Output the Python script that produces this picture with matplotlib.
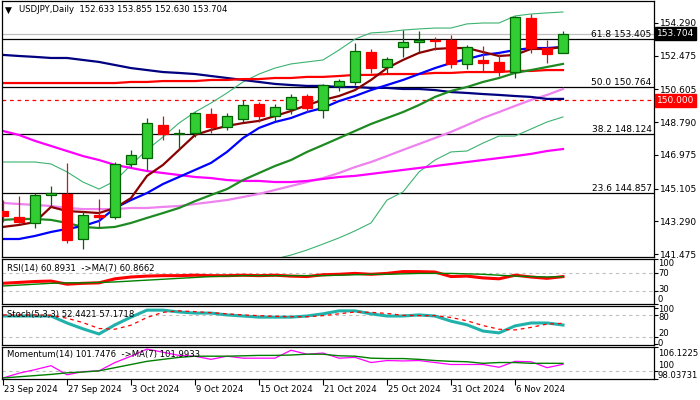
import matplotlib
matplotlib.use("Agg")
import matplotlib.pyplot as plt
from matplotlib.patches import Rectangle
import numpy as np

plt.rcParams['font.family'] = ['DejaVu Sans']

# ---------------- data ----------------
dates = ["23 Sep", "24 Sep", "25 Sep", "26 Sep", "27 Sep", "30 Sep", "1 Oct", "2 Oct", "3 Oct",
         "4 Oct", "7 Oct", "8 Oct", "9 Oct", "10 Oct", "11 Oct", "14 Oct", "15 Oct", "16 Oct",
         "17 Oct", "18 Oct", "21 Oct", "22 Oct", "23 Oct", "24 Oct", "25 Oct", "28 Oct", "29 Oct",
         "30 Oct", "31 Oct", "1 Nov", "4 Nov", "5 Nov", "6 Nov", "7 Nov", "8 Nov", "11 Nov"]
opens = [143.86, 143.53, 143.20, 144.75, 144.81, 142.31, 143.64, 143.53, 146.47, 146.80, 148.63, 148.13,
         148.19, 149.24, 148.52, 148.97, 149.80, 149.13, 149.52, 150.24, 149.47, 150.80, 151.02, 152.68,
         151.85, 152.96, 153.24, 153.35, 153.35, 152.02, 152.24, 152.13, 151.57, 154.57, 152.90, 152.633]
highs = [144.47, 144.70, 144.86, 145.25, 146.53, 143.86, 144.53, 146.58, 147.25, 149.02, 149.13, 148.41,
         149.35, 149.58, 149.30, 150.02, 149.91, 149.80, 150.35, 150.35, 150.91, 151.18, 153.18, 152.85,
         152.40, 153.90, 153.85, 153.51, 153.63, 153.07, 153.02, 152.57, 154.68, 154.79, 153.35, 153.855]
lows = [143.25, 143.20, 142.92, 144.09, 142.09, 141.76, 142.98, 143.42, 146.30, 146.14, 147.80, 147.30,
        147.97, 148.19, 148.36, 148.80, 148.80, 148.86, 149.24, 149.35, 149.02, 150.52, 150.85, 151.52,
        151.46, 152.40, 152.68, 152.79, 151.79, 151.74, 151.57, 151.35, 151.24, 152.63, 152.07, 152.630]
closes = [143.59, 143.25, 144.75, 144.86, 142.26, 143.64, 143.53, 146.47, 146.97, 148.74, 148.13, 148.19,
          149.30, 148.52, 149.13, 149.74, 149.13, 149.63, 150.19, 149.58, 150.85, 151.07, 152.74, 151.79,
          152.29, 153.24, 153.35, 153.29, 152.02, 152.96, 152.07, 151.63, 154.62, 152.90, 152.57, 153.704]

ma_maroon = [142.98, 143.09, 143.25, 144.09, 143.86, 143.81, 143.75, 144.03, 144.58, 145.81, 146.42, 147.25,
             148.08, 148.36, 148.58, 148.74, 148.86, 149.13, 149.41, 149.74, 150.02, 150.24, 150.57, 151.13,
             151.79, 152.24, 152.63, 152.85, 152.90, 152.90, 152.68, 152.46, 152.52, 152.85, 152.85, 152.96]
ma_blue = [142.31, 142.31, 142.48, 142.70, 142.87, 143.03, 143.31, 144.03, 144.47, 144.86, 145.36, 145.75,
           146.14, 146.53, 147.14, 147.91, 148.47, 148.80, 149.02, 149.35, 149.58, 149.96, 150.24, 150.57,
           150.85, 151.13, 151.46, 151.79, 152.07, 152.29, 152.52, 152.63, 152.79, 152.90, 152.90, 152.96]
ma_green = [143.37, 143.42, 143.42, 143.37, 143.20, 142.98, 142.92, 142.98, 143.20, 143.48, 143.75, 144.03,
            144.41, 144.75, 145.08, 145.58, 145.97, 146.36, 146.69, 147.14, 147.52, 147.91, 148.30, 148.69,
            149.02, 149.35, 149.74, 150.19, 150.52, 150.74, 151.02, 151.24, 151.52, 151.68, 151.85, 152.02]
ma_red = [150.96, 150.96, 150.96, 150.96, 150.96, 150.96, 150.96, 150.96, 151.02, 151.02, 151.07, 151.07,
          151.07, 151.13, 151.13, 151.18, 151.18, 151.24, 151.24, 151.30, 151.30, 151.35, 151.41, 151.41,
          151.46, 151.46, 151.46, 151.52, 151.52, 151.57, 151.57, 151.57, 151.63, 151.63, 151.68, 151.68]
ma_navy = [152.52, 152.46, 152.41, 152.35, 152.35, 152.24, 152.13, 151.96, 151.79, 151.68, 151.57, 151.52,
           151.46, 151.35, 151.24, 151.13, 151.02, 150.91, 150.85, 150.80, 150.80, 150.74, 150.74, 150.69,
           150.69, 150.63, 150.63, 150.57, 150.46, 150.41, 150.35, 150.30, 150.24, 150.19, 150.08, 150.08]
ma_magenta = [148.30, 148.08, 147.75, 147.47, 147.19, 146.91, 146.69, 146.42, 146.25, 146.08, 145.97, 145.86,
              145.75, 145.69, 145.58, 145.53, 145.53, 145.47, 145.47, 145.53, 145.64, 145.75, 145.81, 145.92,
              146.03, 146.14, 146.25, 146.36, 146.47, 146.58, 146.69, 146.80, 146.91, 147.03, 147.19, 147.30]
ma_violet = [144.31, 144.25, 144.20, 144.14, 144.03, 143.97, 143.97, 143.97, 144.03, 144.03, 144.09, 144.14,
             144.25, 144.36, 144.47, 144.64, 144.81, 145.03, 145.25, 145.47, 145.69, 145.97, 146.30, 146.58,
             146.91, 147.25, 147.58, 147.91, 148.25, 148.63, 149.02, 149.35, 149.69, 150.02, 150.30, 150.63]
bb_upper = [146.58, 146.58, 146.58, 146.47, 146.03, 145.47, 145.08, 145.53, 146.42, 147.25, 147.97, 148.74,
            149.35, 149.85, 150.41, 151.02, 151.46, 151.79, 152.02, 152.13, 152.24, 152.79, 153.40, 153.74,
            153.79, 153.90, 153.96, 154.01, 154.01, 154.24, 154.29, 154.29, 154.68, 154.79, 154.85, 154.90]
bb_lower_start = 15
bb_lower = [140.70, 140.98, 141.20, 141.42, 141.70, 142.03, 142.37, 142.76, 143.20, 144.47, 144.92, 146.03,
            146.69, 147.14, 147.19, 147.63, 148.02, 148.02, 148.41, 148.80, 149.08]

rsi = [46, 48, 50, 51, 44, 46, 47, 56, 60, 62, 63, 63, 64, 63, 63, 64, 63, 64, 62, 61, 65, 66, 68, 66,
       68, 72, 72, 71, 61, 62, 58, 56, 64, 60, 57, 60.8931]
rsi_ma = [40, 42, 44, 46, 47, 47, 48, 49, 51, 53, 55, 57, 59, 61, 62, 63, 63, 63, 63, 63, 63, 64, 65, 66,
          66, 67, 68, 68, 68, 67, 66, 64, 62, 61, 60, 60.8662]
stoch_k = [77, 77, 77, 77, 58, 42, 28, 53, 74, 93, 93, 88, 85, 85, 80, 77, 74, 74, 74, 77, 83, 91, 91, 83,
           77, 77, 80, 77, 63, 53, 36, 31, 50, 58, 58, 52.4421]
stoch_d = [80, 80, 80, 79, 71, 59, 43, 41, 52, 73, 87, 91, 89, 86, 83, 80, 78, 76, 75, 75, 78, 83, 88, 87,
           84, 79, 78, 78, 73, 64, 51, 41, 39, 46, 55, 57.1718]
mom = [98.3, 99.5, 100.4, 101.4, 99.1, 99.9, 100.1, 102.2, 103.8, 105.6, 104.8, 104.0, 103.8, 103.0, 103.8,
       103.3, 103.3, 103.3, 105.3, 104.3, 104.6, 103.3, 103.5, 102.2, 102.7, 102.6, 102.7, 102.2, 101.7, 101.7,
       101.7, 101.0, 102.5, 102.4, 100.9, 101.7476]
mom_ma = [98.3, 98.6, 98.9, 99.2, 99.6, 99.8, 100.1, 100.9, 101.7, 102.5, 103.0, 103.5, 103.8, 103.8, 103.8,
          103.9, 104.0, 104.0, 104.1, 104.3, 104.3, 103.9, 103.8, 103.3, 103.2, 103.2, 103.0, 102.7, 102.5, 102.4,
          102.0, 102.2, 102.2, 102.0, 102.0, 101.9933]

fib_levels = [153.405, 150.764, 148.124, 144.857]
fib_names = ["61.8", "50.0", "38.2", "23.6"]
price_ticks = [154.290, 152.475, 150.605, 148.790, 146.975, 145.105, 143.290, 141.475]
date_ticks = [0, 4, 8, 12, 16, 20, 24, 28, 32]
last_price = 153.704
round_level = 150.000
mom_max, mom_min = 106.1225, 98.03731

# ---------------- figure ----------------
W, H = 700, 400
fig = plt.figure(figsize=(7, 4), dpi=100)
fig.patch.set_facecolor('white')

def add_ax(x0, y0, x1, y1):
    return fig.add_axes([x0 / W, 1 - y1 / H, (x1 - x0) / W, (y1 - y0) / H])

def ftext(x, y, s, **kw):
    fig.text(x / W, 1 - y / H, s, **kw)

XL = (-1 / 16, 651 / 16)
FS = 6.5
FS2 = 6.1
idx = np.arange(len(dates))

ax = add_ax(2, 1, 654, 257)
ax.set_xlim(*XL)
YLO, YHI = 141.312, 155.510
ax.set_ylim(YLO, YHI)

for ln in fib_levels:
    ax.axhline(ln, color='black', lw=0.9, zorder=1)
ax.axhline(last_price, color='#C0C0C0', lw=0.9, zorder=1)
ax.axhline(round_level, color='red', lw=0.9, ls=(0, (3, 3)), zorder=1)

ax.plot(idx, bb_upper, color='#3CB371', lw=0.8, zorder=2)
ax.plot(idx[bb_lower_start:], bb_lower, color='#3CB371', lw=0.8, zorder=2)
ax.plot(idx, ma_violet, color='#EE82EE', lw=1.6, zorder=2)
ax.plot(idx, ma_magenta, color='#FF00FF', lw=1.6, zorder=2)
ax.plot(idx, ma_navy, color='#000080', lw=1.6, zorder=2)
ax.plot(idx, ma_red, color='#FF0000', lw=1.6, zorder=2)
ax.plot(idx, ma_green, color='#1E8B22', lw=1.6, zorder=2)
ax.plot(idx, ma_blue, color='#0000FF', lw=1.6, zorder=2)
ax.plot(idx, ma_maroon, color='#8B0000', lw=1.6, zorder=2)

bw = 0.66
for i in idx:
    o, h, l, c = opens[i], highs[i], lows[i], closes[i]
    up = c >= o
    wick = '#006400' if up else '#B22222'
    ax.plot([i, i], [l, h], color=wick, lw=0.9, zorder=3, solid_capstyle='butt')
    bottom = min(o, c)
    height = max(abs(c - o), 0.06)
    if up:
        ax.add_patch(Rectangle((i - bw / 2, bottom), bw, height, facecolor='#32CD32',
                               edgecolor='#006400', lw=0.9, zorder=4))
    else:
        ax.add_patch(Rectangle((i - bw / 2, bottom), bw, height, facecolor='#FF0000',
                               edgecolor='#FF0000', lw=0.9, zorder=4))

ax.yaxis.tick_right()
ax.set_yticks(price_ticks)
ax.set_yticklabels([f"{v:.3f}" for v in price_ticks], fontsize=FS)
ax.tick_params(axis='y', length=3, width=0.8, pad=1.5, colors='black')
ax.set_xticks([])
for s in ax.spines.values():
    s.set_linewidth(0.9)
    s.set_color('black')

for ln, nm in zip(fib_levels, fib_names):
    ax.text(651 / 16 - 0.15, ln, f"{nm} {ln:.3f}", fontsize=FS, ha='right', va='bottom', zorder=6)

# price boxes
ax.text(1.005, (last_price - YLO) / (YHI - YLO), f"{last_price:.3f}", transform=ax.transAxes,
        fontsize=FS, color='white', ha='left', va='center', zorder=10,
        bbox=dict(boxstyle='square,pad=0.2', fc='black', ec='black'))
ax.text(1.005, (round_level - YLO) / (YHI - YLO), f"{round_level:.3f}", transform=ax.transAxes,
        fontsize=FS, color='white', ha='left', va='center', zorder=10,
        bbox=dict(boxstyle='square,pad=0.2', fc='red', ec='red'))

ftext(5, 10, "▼", fontsize=6.5, va='center', ha='left')
ftext(19, 10, "USDJPY,Daily  152.633 153.855 152.630 153.704", fontsize=FS2, va='center', ha='left')

# ---------------- RSI ----------------
ar = add_ax(2, 259, 654, 304)
ar.set_xlim(*XL)
ar.set_ylim(0, 100)
for lv in (70, 30):
    ar.axhline(lv, color='#C0C0C0', lw=0.8, ls=(0, (3, 3)))
ar.plot(idx, rsi, color='red', lw=2.2)
ar.plot(idx, rsi_ma, color='#008000', lw=1.0)
ar.set_xticks([])
ar.yaxis.tick_right()
ar.set_yticks([100, 70, 30, 0])
ar.set_yticklabels([])
ar.tick_params(axis='y', length=3, width=0.8)
ftext(7, 268, "RSI(14) 60.8931  ->MA(7) 60.8662", fontsize=FS2, va='center')
ftext(658, 264, "100", fontsize=FS2, va='center')
ftext(658, 273, "70", fontsize=FS2, va='center')
ftext(658, 290, "30", fontsize=FS2, va='center')
ftext(658, 299, "0", fontsize=FS2, va='center')

# ---------------- Stoch ----------------
asx = add_ax(2, 306, 654, 345)
asx.set_xlim(*XL)
asx.set_ylim(-2, 104.3)
for lv in (80, 20):
    asx.axhline(lv, color='#C0C0C0', lw=0.8, ls=(0, (3, 3)))
asx.plot(idx, stoch_k, color='#20B2AA', lw=2.2)
asx.plot(idx, stoch_d, color='red', lw=0.9, ls=(0, (3, 3)))
asx.set_xticks([])
asx.yaxis.tick_right()
asx.set_yticks([100, 80, 20, 0])
asx.set_yticklabels([])
asx.tick_params(axis='y', length=3, width=0.8)
ftext(7, 315, "Stoch(5,3,3) 52.4421 57.1718", fontsize=FS2, va='center')
ftext(658, 309, "100", fontsize=FS2, va='center')
ftext(658, 318, "80", fontsize=FS2, va='center')
ftext(658, 334, "20", fontsize=FS2, va='center')
ftext(658, 343, "0", fontsize=FS2, va='center')

# ---------------- Momentum ----------------
am = add_ax(2, 347, 654, 379)
am.set_xlim(*XL)
am.set_ylim(mom_min, mom_max)
am.axhline(100, color='#C0C0C0', lw=0.8, ls=(0, (3, 3)))
am.plot(idx, mom, color='#FF00FF', lw=0.9)
am.plot(idx, mom_ma, color='#008000', lw=1.0)
am.yaxis.tick_right()
am.set_yticks([mom_max, 100, mom_min])
am.set_yticklabels([])
am.tick_params(axis='y', length=3, width=0.8)
am.set_xticks(date_ticks)
am.set_xticklabels([])
am.tick_params(axis='x', length=4, width=0.8, direction='out')
ftext(7, 354, "Momentum(14) 101.7476  ->MA(7) 101.9933", fontsize=FS2, va='center')
ftext(658, 354, f"{mom_max:.4f}", fontsize=FS2, va='center')
ftext(658, 366, "100", fontsize=FS2, va='center')
ftext(658, 376, f"{mom_min:.5f}", fontsize=FS2, va='center')

for a in (ar, asx, am):
    for s in a.spines.values():
        s.set_linewidth(0.9)
        s.set_color('black')

for t in date_ticks:
    xpx = 3 + 16 * t
    ftext(xpx + 1, 389, dates[t] + " 2024", fontsize=FS2, va='center', ha='left')

fig.savefig("out.png", dpi=100)
